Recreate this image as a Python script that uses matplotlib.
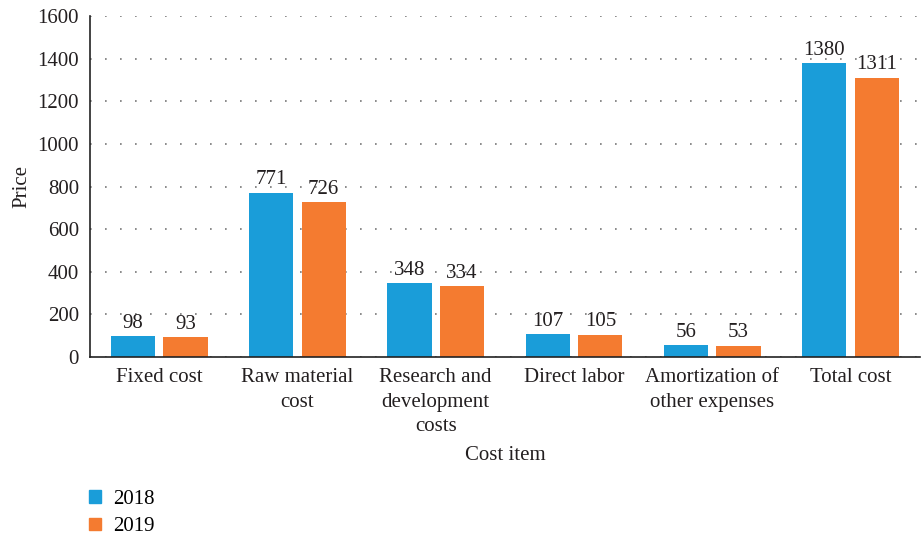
import matplotlib.pyplot as plt
import numpy as np
from matplotlib.patches import Patch

plt.rcParams['font.family'] = ['Liberation Serif', 'DejaVu Serif']

categories = ['Fixed cost', 'Raw material\ncost', 'Research and\ndevelopment\ncosts',
              'Direct labor', 'Amortization of\nother expenses', 'Total cost']
cost_2018 = [98, 771, 348, 107, 56, 1380]
cost_2019 = [93, 726, 334, 105, 53, 1311]

blue = '#1a9dd9'
orange = '#f47b30'
txt = '#231f20'
fs = 15

fig = plt.figure(figsize=(9.22, 5.37), dpi=100)
ax = fig.add_axes([0.0976, 0.335, 0.900, 0.635])

x = np.arange(len(categories))
w = 0.32
b1 = ax.bar(x - 0.19, cost_2018, w, color=blue)
b2 = ax.bar(x + 0.19, cost_2019, w, color=orange)

for bars, vals in ((b1, cost_2018), (b2, cost_2019)):
    for b, v in zip(bars, vals):
        ax.text(b.get_x() + b.get_width() / 2, v + 16, str(v),
                ha='center', va='bottom', fontsize=fs, color=txt)

ax.set_xlim(-0.5, len(categories) - 0.5)
ax.set_ylim(0, 1600)
ax.set_yticks(range(0, 1601, 200))
ax.set_xticks(x)
ax.set_xticklabels(categories, fontsize=fs, color=txt, linespacing=1.4)
ax.tick_params(axis='y', labelsize=fs, labelcolor=txt, length=0, pad=8)
ax.tick_params(axis='x', length=0, pad=8)

ax.yaxis.grid(True, linestyle=(0, (1, 8)), color='#777777', linewidth=1.2)
ax.set_axisbelow(True)
for s in ('top', 'right'):
    ax.spines[s].set_visible(False)
for s in ('left', 'bottom'):
    ax.spines[s].set_color('#222222')
    ax.spines[s].set_linewidth(1.2)

ax.set_xlabel('Cost item', fontsize=fs, color=txt, labelpad=7)
ax.set_ylabel('Price', fontsize=fs, color=txt, labelpad=4)

handles = [Patch(color=blue, label='2018'), Patch(color=orange, label='2019')]
fig.legend(handles=handles, loc='upper left', bbox_to_anchor=(0.088, 0.103),
           frameon=False, fontsize=fs, handlelength=0.55, handleheight=0.55,
           handletextpad=0.6, labelspacing=0.4, borderaxespad=0)

fig.savefig('out.png', dpi=100)
